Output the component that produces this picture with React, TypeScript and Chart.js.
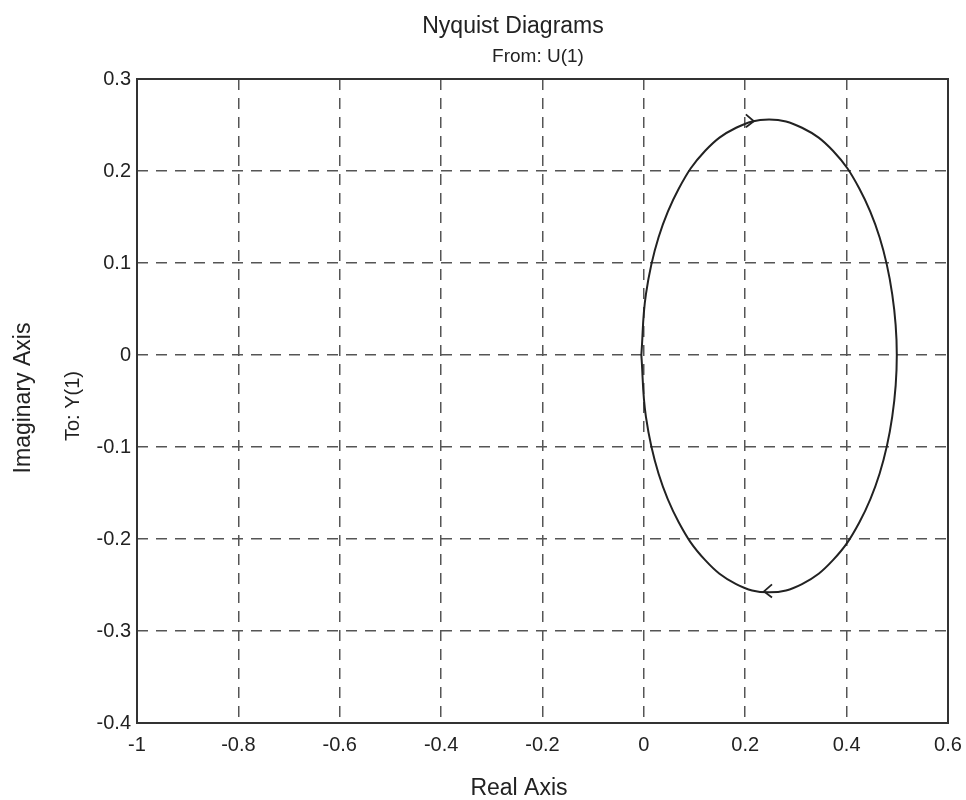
import React, { useEffect, useRef } from "react";
import { Chart, registerables } from "chart.js";

Chart.register(...registerables);

// Axis ticks
const xTicks = [-1, -0.8, -0.6, -0.4, -0.2, 0, 0.2, 0.4, 0.6];
const yTicks = [-0.4, -0.3, -0.2, -0.1, 0, 0.1, 0.2, 0.3];

// Nyquist curve, upper half, left to right
const upperRe = [-0.005, 0.004, 0.029, 0.069, 0.121, 0.182, 0.247, 0.312, 0.373, 0.425, 0.465, 0.49, 0.499];
const upperIm = [0.0, 0.066, 0.128, 0.181, 0.222, 0.247, 0.256, 0.247, 0.222, 0.181, 0.128, 0.066, 0.0];
// lower half, right to left
const lowerRe = [0.49, 0.465, 0.425, 0.373, 0.312, 0.247, 0.182, 0.121, 0.069, 0.029, 0.004, -0.005];
const lowerIm = [-0.067, -0.129, -0.182, -0.223, -0.249, -0.258, -0.249, -0.223, -0.182, -0.129, -0.067, 0.0];

// Direction arrows on the curve
const arrowRe = [0.217, 0.237];
const arrowIm = [0.254, -0.257];
const arrowDir = [1, -1];

const FONT = "'Liberation Sans', Arial, Helvetica, sans-serif";

const fmt = (v: number) => {
  const n = Math.round(Number(v) * 10) / 10;
  return String(n);
};

export default function App() {
  const ref = useRef<HTMLCanvasElement | null>(null);

  useEffect(() => {
    document.body.style.margin = "0";
    const canvas = ref.current;
    if (!canvas) return;

    const points: { x: number; y: number }[] = [];
    upperRe.forEach((r, i) => points.push({ x: r, y: upperIm[i] }));
    lowerRe.forEach((r, i) => points.push({ x: r, y: lowerIm[i] }));

    const decor = {
      id: "decor",
      afterDraw(chart: any) {
        const ctx = chart.ctx;
        const a = chart.chartArea;
        const xs = chart.scales.x;
        const ys = chart.scales.y;
        ctx.save();
        // frame
        ctx.strokeStyle = "#333";
        ctx.lineWidth = 2;
        ctx.setLineDash([]);
        ctx.strokeRect(a.left, a.top, a.right - a.left, a.bottom - a.top);

        // arrows
        ctx.strokeStyle = "#222";
        ctx.lineWidth = 1.8;
        arrowRe.forEach((r, i) => {
          const px = xs.getPixelForValue(r);
          const py = ys.getPixelForValue(arrowIm[i]);
          const d = arrowDir[i];
          ctx.beginPath();
          ctx.moveTo(px - d * 8, py - 7);
          ctx.lineTo(px, py);
          ctx.lineTo(px - d * 8, py + 6);
          ctx.stroke();
        });

        // texts
        ctx.fillStyle = "#222";
        ctx.textAlign = "center";
        ctx.textBaseline = "alphabetic";
        ctx.font = `23px ${FONT}`;
        ctx.fillText("Nyquist Diagrams", 513, 33);
        ctx.font = `19px ${FONT}`;
        ctx.fillText("From: U(1)", 538, 62);
        ctx.font = `23px ${FONT}`;
        ctx.fillText("Real Axis", 519, 795);

        ctx.save();
        ctx.translate(30, 398);
        ctx.rotate(-Math.PI / 2);
        ctx.font = `23px ${FONT}`;
        ctx.fillText("Imaginary Axis", 0, 0);
        ctx.restore();

        ctx.save();
        ctx.translate(79, 406);
        ctx.rotate(-Math.PI / 2);
        ctx.font = `20px ${FONT}`;
        ctx.fillText("To: Y(1)", 0, 0);
        ctx.restore();

        ctx.restore();
      },
    };

    const chart = new Chart(canvas, {
      type: "scatter",
      data: {
        datasets: [
          {
            data: points,
            showLine: true,
            borderColor: "#222",
            borderWidth: 2,
            pointRadius: 0,
            tension: 0.4,
            fill: false,
          },
        ],
      },
      options: {
        responsive: false,
        animation: false,
        devicePixelRatio: 1,
        layout: { padding: { left: 0, right: 18, top: 79, bottom: 0 } },
        plugins: { legend: { display: false }, tooltip: { enabled: false }, title: { display: false } },
        scales: {
          x: {
            type: "linear",
            min: -1,
            max: 0.6,
            afterFit: (s: any) => {
              s.height = 77;
              s.paddingLeft = 0;
              s.paddingRight = 0;
            },
            afterBuildTicks: (s: any) => {
              s.ticks = xTicks.map((v) => ({ value: v }));
            },
            ticks: {
              callback: (v: any) => fmt(v),
              font: { family: FONT, size: 20 },
              color: "#222",
              padding: 10,
              maxRotation: 0,
              autoSkip: false,
            },
            grid: { color: "#555", lineWidth: 1.5, drawTicks: false },
            border: { display: false, dash: [11, 8] },
          },
          y: {
            type: "linear",
            min: -0.4,
            max: 0.3,
            afterFit: (s: any) => {
              s.width = 137;
              s.paddingTop = 0;
              s.paddingBottom = 0;
            },
            afterBuildTicks: (s: any) => {
              s.ticks = yTicks.map((v) => ({ value: v }));
            },
            ticks: {
              callback: (v: any) => fmt(v),
              font: { family: FONT, size: 20 },
              color: "#222",
              padding: 6,
              autoSkip: false,
            },
            grid: { color: "#555", lineWidth: 1.5, drawTicks: false },
            border: { display: false, dash: [11, 8] },
          },
        },
      },
      plugins: [decor],
    } as any);

    return () => chart.destroy();
  }, []);

  return <canvas ref={ref} width={966} height={800} style={{ display: "block" }} />;
}
